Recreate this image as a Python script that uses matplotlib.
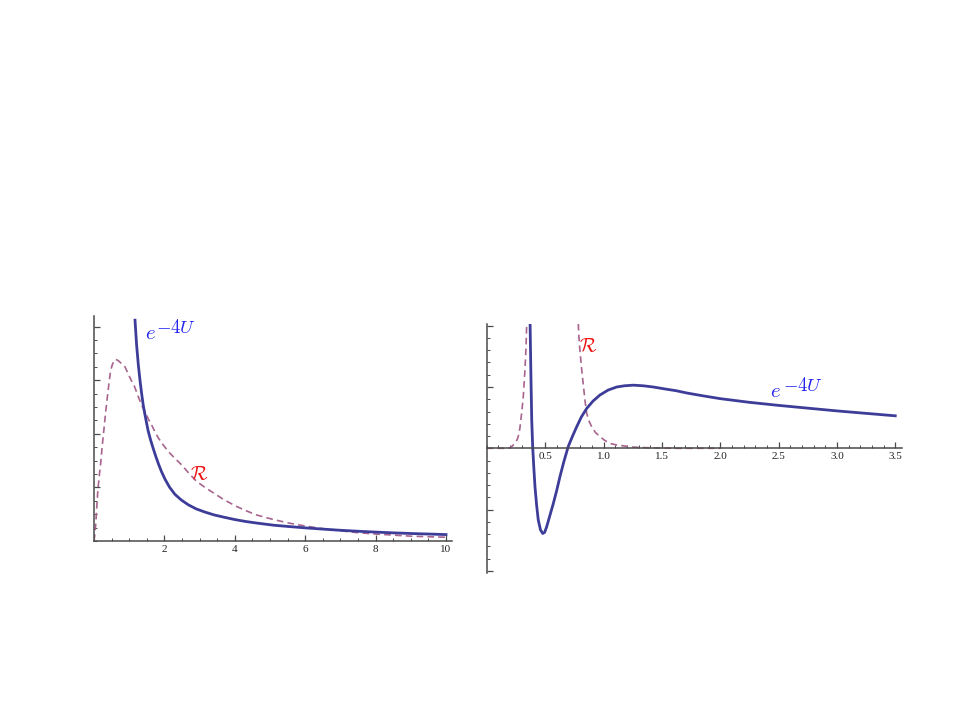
import matplotlib
matplotlib.use("Agg")
import matplotlib.pyplot as plt

plt.rcParams.update({"mathtext.fontset": "cm", "font.family": "Liberation Serif"})

# ---- left panel: values --------------------------------------------------
left_u_x = [1.165, 1.21, 1.26, 1.31, 1.355, 1.40, 1.45, 1.50, 1.54, 1.61, 1.685,
            1.76, 1.83, 1.92, 2.02, 2.15, 2.30, 2.48, 2.68, 2.90, 3.15, 3.42, 3.72,
            4.0, 4.3, 4.62, 5.1, 5.57, 6.0, 6.5, 7.0, 7.5, 8.0, 8.5, 9.0, 9.5, 10.0]
left_u_y = [4.12, 3.66, 3.28, 2.98, 2.74, 2.53, 2.35, 2.18, 2.05, 1.88, 1.72,
            1.57, 1.44, 1.29, 1.15, 1.00, 0.87, 0.765, 0.675, 0.60, 0.54, 0.485, 0.44,
            0.40, 0.365, 0.335, 0.295, 0.268, 0.245, 0.222, 0.20, 0.182, 0.166, 0.152,
            0.14, 0.13, 0.12]
left_r_x = [0.0, 0.02, 0.05, 0.08, 0.11, 0.15, 0.19, 0.23, 0.28, 0.33, 0.38, 0.43,
            0.47, 0.52, 0.57, 0.62, 0.70, 0.78, 0.88, 0.97, 1.07, 1.14, 1.26, 1.35,
            1.45, 1.54, 1.64, 1.73, 1.83, 1.97, 2.11, 2.30, 2.49, 2.70, 2.92, 3.13,
            3.34, 3.67, 4.0, 4.3, 4.62, 5.1, 5.57, 6.0, 6.5, 7.0, 7.5, 8.0, 8.5, 9.0,
            9.5, 10.0]
left_r_y = [0.0, 0.10, 0.32, 0.65, 0.95, 1.22, 1.45, 1.75, 2.07, 2.40, 2.69, 2.97,
            3.17, 3.29, 3.36, 3.39, 3.36, 3.31, 3.25, 3.12, 2.98, 2.90, 2.69, 2.54,
            2.41, 2.28, 2.16, 2.04, 1.92, 1.79, 1.67, 1.54, 1.42, 1.26, 1.11, 1.01,
            0.92, 0.78, 0.66, 0.57, 0.485, 0.40, 0.33, 0.28, 0.23, 0.19, 0.155, 0.13,
            0.11, 0.09, 0.08, 0.07]

# ---- right panel ----------------------------------------------------------
right_u_x = [0.371, 0.378, 0.385, 0.393, 0.403, 0.413, 0.427, 0.441, 0.46, 0.479,
             0.496, 0.513, 0.54, 0.57, 0.60, 0.627, 0.66, 0.698, 0.735, 0.77, 0.81,
             0.856, 0.91, 0.97, 1.04, 1.113, 1.18, 1.255, 1.34, 1.427, 1.52, 1.62,
             1.72, 1.84, 2.0, 2.25, 2.5, 2.75, 3.0, 3.25, 3.5]
right_u_y = [2.03, 1.20, 0.46, 0.03, -0.32, -0.63, -0.93, -1.17, -1.33, -1.39,
             -1.37, -1.28, -1.10, -0.90, -0.68, -0.46, -0.22, 0.03, 0.20, 0.35, 0.51,
             0.65, 0.77, 0.87, 0.95, 1.00, 1.02, 1.03, 1.02, 1.00, 0.97, 0.94,
             0.90, 0.86, 0.81, 0.75, 0.70, 0.655, 0.61, 0.57, 0.53]
right_r1_x = [0.0, 0.17, 0.20, 0.22, 0.24, 0.26, 0.275, 0.285, 0.30, 0.313, 0.327,
              0.335, 0.342]
right_r1_y = [0.0, 0.0, 0.01, 0.04, 0.08, 0.14, 0.23, 0.35, 0.60, 0.85, 1.28,
              1.60, 2.03]
right_r2_x = [0.784, 0.79, 0.80, 0.815, 0.829, 0.842, 0.856, 0.875, 0.899, 0.93,
              0.97, 1.01, 1.056, 1.11, 1.17, 1.25, 1.37, 1.6, 2.0]
right_r2_y = [2.03, 1.80, 1.55, 1.25, 1.00, 0.77, 0.57, 0.45, 0.35, 0.26,
              0.19, 0.13, 0.08, 0.055, 0.04, 0.02, 0.01, 0.0, 0.0]

BLUE = "#3d3d99"
PINK = "#a8648e"
AX = "#4a4a4a"
W, H = 960, 720

fig = plt.figure(figsize=(9.6, 7.2), dpi=100)
fig.patch.set_facecolor("white")


def add_axes(x0, y_bottom, x1, y_top):
    # pixel box -> figure fraction
    return fig.add_axes([x0 / W, (H - y_bottom) / H, (x1 - x0) / W, (y_bottom - y_top) / H])


def style(ax):
    for s in ("top", "right"):
        ax.spines[s].set_visible(False)
    for s in ("left", "bottom"):
        ax.spines[s].set_color(AX)
        ax.spines[s].set_linewidth(1.1)
    ax.spines["left"].set_position(("data", 0))
    ax.spines["bottom"].set_position(("data", 0))
    ax.tick_params(which="both", direction="in", color=AX, labelsize=8,
                   labelcolor="#222222", pad=3)
    ax.tick_params(which="major", length=4.5, width=0.9)
    ax.tick_params(which="minor", length=2.5, width=0.7)
    ax.set_yticklabels([])
    ax.patch.set_alpha(0)


def label_u(ax, xe, ye, xs, ys):
    # e^{-4U} drawn as two pieces: the exponent is nearly as big as the base
    ax.text(xe, ye, r"$e$", color="#2222ee", fontsize=15, ha="left", va="baseline")
    ax.text(xs, ys, r"$-4U$", color="#2222ee", fontsize=13.5, ha="left", va="baseline")


# ============ left panel ============
ax1 = add_axes(94, 541, 94 + 10.16 * 35.2, 541 - 4.19 * 53.6)
ax1.set_xlim(0, 10.16)
ax1.set_ylim(0, 4.19)
ax1.plot(left_r_x, left_r_y, color=PINK, lw=1.2, dashes=(4, 2.5))
ax1.plot(left_u_x, left_u_y, color=BLUE, lw=2.0, solid_joinstyle="round")
ax1.set_xticks([2, 4, 6, 8, 10])
ax1.set_xticks([i * 0.5 for i in range(21)], minor=True)
ax1.set_yticks([1, 2, 3, 4])
ax1.set_yticks([i * 0.25 for i in range(17)], minor=True)
style(ax1)
ax1.set_xticklabels(["2", "4", "6", "8", "10"])
label_u(ax1, 1.45, 3.77, 1.76, 3.875)
ax1.text(3.0, 1.24, r"$\mathcal{R}$", color="#ee1111", fontsize=14, ha="center", va="center")

# ============ right panel ============
ax2 = add_axes(486.8, 448.3 + 2.03 * 61.3, 486.8 + 3.555 * 116.7, 448.3 - 2.02 * 61.3)
ax2.set_xlim(0, 3.555)
ax2.set_ylim(-2.03, 2.02)
ax2.plot(right_r1_x, right_r1_y, color=PINK, lw=1.2, dashes=(4, 2.5))
ax2.plot(right_r2_x, right_r2_y, color=PINK, lw=1.2, dashes=(4, 2.5))
ax2.plot(right_u_x, right_u_y, color=BLUE, lw=2.0, solid_joinstyle="round")
ax2.set_xticks([0.5, 1.0, 1.5, 2.0, 2.5, 3.0, 3.5])
ax2.set_xticks([i * 0.1 for i in range(36)], minor=True)
ax2.set_yticks([-2, -1, 1, 2])
ax2.set_yticks([i * 0.2 - 2 for i in range(21)], minor=True)
style(ax2)
ax2.set_xticklabels(["0.5", "1.0", "1.5", "2.0", "2.5", "3.0", "3.5"])
label_u(ax2, 2.427, 0.84, 2.537, 0.94)
ax2.text(0.87, 1.66, r"$\mathcal{R}$", color="#ee1111", fontsize=14, ha="center", va="center")

fig.savefig("out.png", dpi=100)
